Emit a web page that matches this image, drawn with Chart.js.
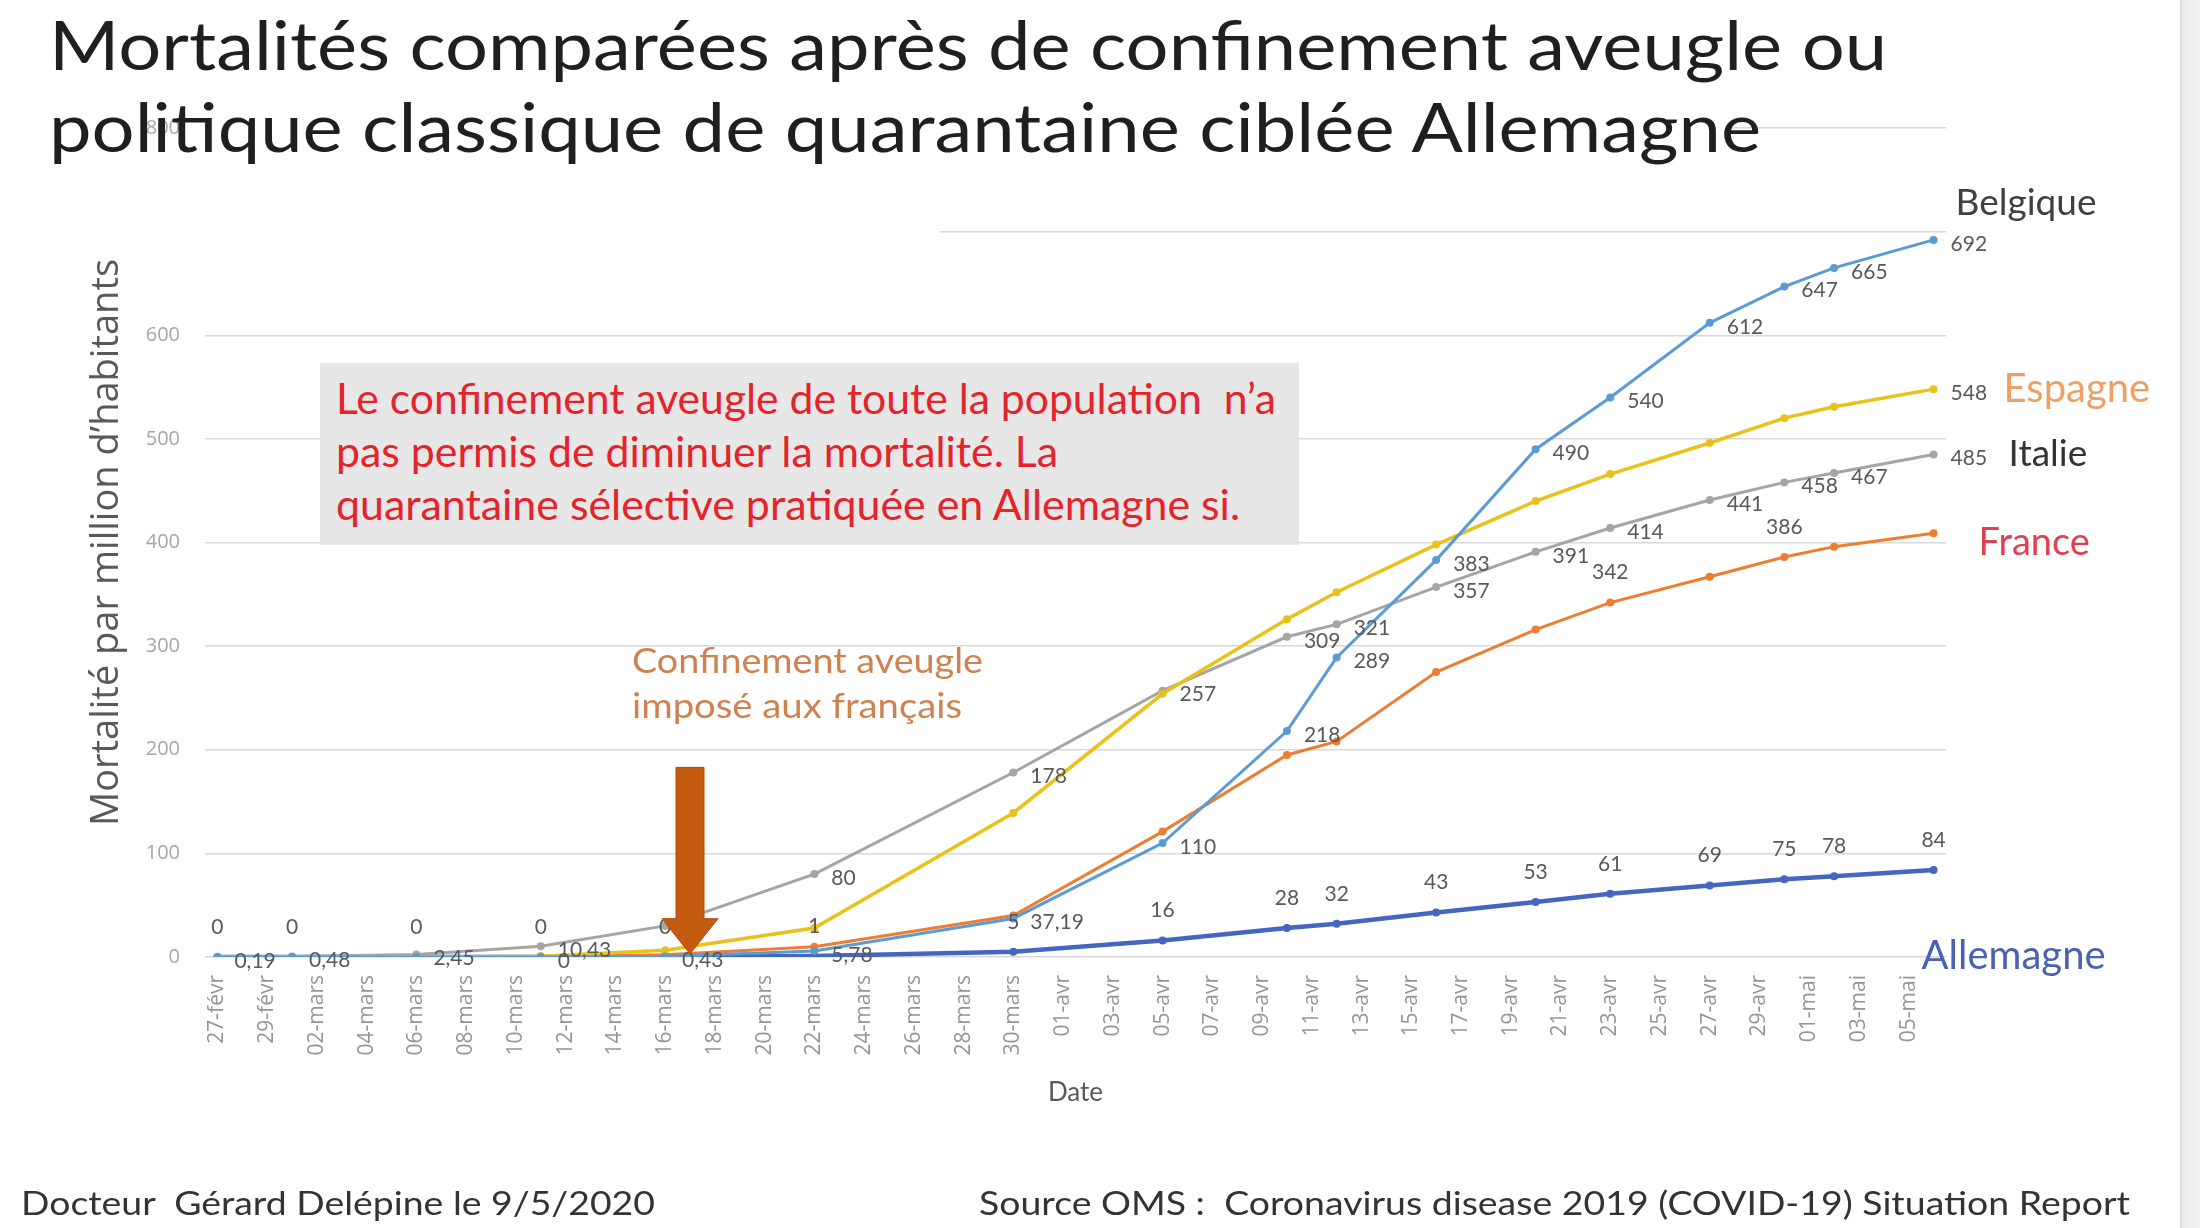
<!DOCTYPE html>
<html lang="fr">
<head>
<meta charset="utf-8">
<title>Mortalités comparées</title>
<script src="https://cdn.jsdelivr.net/npm/chart.js@4.4.1/dist/chart.umd.min.js"></script>
<style>
  html, body { margin: 0; padding: 0; background: #fff; }
  #page { position: relative; width: 2200px; height: 1228px; overflow: hidden; font-family: Lato, sans-serif; }
  #graphe { position: absolute; left: 0; top: 0; }
  .texte { position: absolute; white-space: pre; line-height: 1.2; transform-origin: 0 0; }
  .cache { position: absolute; background: #fff; }
</style>
</head>
<body>
<div id="page">
  <canvas id="graphe" width="2200" height="1228"></canvas>

  <!-- bouts de grille masqués comme sur la diapo -->
  <div class="cache" style="left:200px;top:121px;width:1530px;height:14px"></div>
  <div class="cache" style="left:0;top:216px;width:940px;height:30px"></div>

  <div id="encadre" style="position:absolute;left:320px;top:363px;width:979px;height:182px;background:#e7e7e7"></div>
  <div id="bande" style="position:absolute;left:2180px;top:0;width:20px;height:1228px;background:linear-gradient(to right,#d6d6d6 0,#ececec 3px,#f2f2f2 100%)"></div>

  <div class="texte" id="t1" style="font-size:68px;color:#1f1f1f">Mortalités comparées après de confinement aveugle ou</div>
  <div class="texte" id="t2" style="font-size:68px;color:#1f1f1f">politique classique de quarantaine ciblée Allemagne</div>

  <div class="texte" id="r1" style="font-size:42px;color:#e5232b">Le confinement aveugle de toute la population  n’a</div>
  <div class="texte" id="r2" style="font-size:42px;color:#e5232b">pas permis de diminuer la mortalité. La</div>
  <div class="texte" id="r3" style="font-size:42px;color:#e5232b">quarantaine sélective pratiquée en Allemagne si.</div>

  <div class="texte" id="o1" style="font-size:35px;color:#cf8250">Confinement aveugle</div>
  <div class="texte" id="o2" style="font-size:35px;color:#cf8250">imposé aux français</div>

  <div class="texte" id="p1" style="font-size:33px;color:#333">Docteur  Gérard Delépine le 9/5/2020</div>
  <div class="texte" id="p2" style="font-size:33px;color:#333">Source OMS :  Coronavirus disease 2019 (COVID-19) Situation Report</div>
</div>

<script>
// axe des dates (un jour par catégorie)
var jours = [
  '27-févr', '28-févr', '29-févr',
  '01-mars', '02-mars', '03-mars', '04-mars', '05-mars', '06-mars', '07-mars', '08-mars', '09-mars', '10-mars',
  '11-mars', '12-mars', '13-mars', '14-mars', '15-mars', '16-mars', '17-mars', '18-mars', '19-mars', '20-mars',
  '21-mars', '22-mars', '23-mars', '24-mars', '25-mars', '26-mars', '27-mars', '28-mars', '29-mars', '30-mars', '31-mars',
  '01-avr', '02-avr', '03-avr', '04-avr', '05-avr', '06-avr', '07-avr', '08-avr', '09-avr', '10-avr',
  '11-avr', '12-avr', '13-avr', '14-avr', '15-avr', '16-avr', '17-avr', '18-avr', '19-avr', '20-avr',
  '21-avr', '22-avr', '23-avr', '24-avr', '25-avr', '26-avr', '27-avr', '28-avr', '29-avr', '30-avr',
  '01-mai', '02-mai', '03-mai', '04-mai', '05-mai', '06-mai'
];

// dates des rapports OMS utilisés
var dates = ['27-févr', '01-mars', '06-mars', '11-mars', '16-mars', '22-mars', '30-mars', '05-avr', '10-avr',
             '12-avr', '16-avr', '20-avr', '23-avr', '27-avr', '30-avr', '02-mai', '06-mai'];

// morts par million d'habitants
var belgique  = [0, 0, 0, 0, 0.43, 5.78, 37.19, 110, 218, 289, 383, 490, 540, 612, 647, 665, 692];
var espagne   = [0, 0, 0.06, 0.8, 6.6, 28, 139, 254, 326, 352, 398, 440, 466, 496, 520, 531, 548];
var italie    = [0.19, 0.48, 2.45, 10.43, 30, 80, 178, 257, 309, 321, 357, 391, 414, 441, 458, 467, 485];
var france    = [0.03, 0.03, 0.1, 0.5, 2.2, 10, 40, 121, 195, 208, 275, 316, 342, 367, 386, 396, 409];
var allemagne = [0, 0, 0, 0, 0, 1, 5, 16, 28, 32, 43, 53, 61, 69, 75, 78, 84];

// dates qui portent une étiquette de valeur
var etiqBelgique  = dates.slice(3);
var etiqEspagne   = ['06-mai'];
var etiqItalie    = dates;
var etiqFrance    = ['23-avr', '30-avr'];
var etiqAllemagne = dates;

var graduations = [0, 100, 200, 300, 400, 500, 600, 700, 800];

// flèche "confinement" (date, haut de la flèche, base de la pointe, pointe)
var confinement = { date: '17-mars', haut: 183, base: 37, pointe: 3 };

function points(valeurs) {
  return valeurs.map(function(v, i) { return { x: dates[i], y: v }; });
}

function serie(nom, valeurs, couleur, epaisseur, etiq, pos) {
  return {
    label: nom,
    data: points(valeurs),
    borderColor: couleur,
    backgroundColor: couleur,
    borderWidth: epaisseur,
    pointRadius: 4,
    pointBorderWidth: 0,
    tension: 0,
    spanGaps: true,
    etiquettes: etiq,
    position: pos
  };
}

// noms des pays en bout de courbe (décalage par rapport au dernier point)
var nomsPays = [
  { serie: 0, texte: 'Belgique',  couleur: '#404040', taille: 37, dx: 22,  dy: -25 },
  { serie: 1, texte: 'Espagne',   couleur: '#eda064', taille: 40, dx: 70,  dy: 13 },
  { serie: 2, texte: 'Italie',    couleur: '#333333', taille: 37, dx: 75,  dy: 12 },
  { serie: 3, texte: 'France',    couleur: '#e2404e', taille: 38, dx: 45,  dy: 22 },
  { serie: 4, texte: 'Allemagne', couleur: '#4a62b0', taille: 40, dx: -12, dy: 99 }
];

var etiquettesPlugin = {
  id: 'etiquettes',
  afterDatasetsDraw: function(chart) {
    var ctx = chart.ctx;
    ctx.save();
    ctx.font = '21px Lato';
    ctx.fillStyle = '#595959';
    chart.data.datasets.forEach(function(ds, i) {
      var meta = chart.getDatasetMeta(i);
      meta.data.forEach(function(pt, j) {
        if (ds.etiquettes.indexOf(dates[j]) < 0) return;
        var txt = String(ds.data[j].y).replace('.', ',');
        if (ds.position === 'haut') {
          ctx.textAlign = 'center';
          ctx.textBaseline = 'middle';
          ctx.fillText(txt, pt.x, pt.y - 30);
        } else {
          ctx.textAlign = 'left';
          ctx.textBaseline = 'middle';
          ctx.fillText(txt, pt.x + 17, pt.y + 4);
        }
      });
    });
    nomsPays.forEach(function(n) {
      var meta = chart.getDatasetMeta(n.serie);
      var der = meta.data[meta.data.length - 1];
      ctx.font = n.taille + 'px Lato';
      ctx.fillStyle = n.couleur;
      ctx.textAlign = 'left';
      ctx.textBaseline = 'alphabetic';
      ctx.fillText(n.texte, der.x + n.dx, der.y + n.dy);
    });
    ctx.restore();
  }
};

var flechePlugin = {
  id: 'fleche',
  afterDraw: function(chart) {
    var ctx = chart.ctx, x = chart.scales.x, y = chart.scales.y;
    var cx = x.getPixelForValue(jours.indexOf(confinement.date));
    var yh = y.getPixelForValue(confinement.haut);
    var yb = y.getPixelForValue(confinement.base);
    var yp = y.getPixelForValue(confinement.pointe);
    ctx.save();
    ctx.fillStyle = '#c55a11';
    ctx.strokeStyle = '#b04e0c';
    ctx.lineWidth = 1;
    ctx.beginPath();
    ctx.moveTo(cx - 14, yh);
    ctx.lineTo(cx + 14, yh);
    ctx.lineTo(cx + 14, yb);
    ctx.lineTo(cx + 28, yb);
    ctx.lineTo(cx, yp);
    ctx.lineTo(cx - 28, yb);
    ctx.lineTo(cx - 14, yb);
    ctx.closePath();
    ctx.fill();
    ctx.stroke();
    ctx.restore();
  }
};

var ctx = document.getElementById('graphe').getContext('2d');

new Chart(ctx, {
  type: 'line',
  data: {
    labels: jours,
    datasets: [
      serie('Belgique', belgique, '#5b9bd5', 3, etiqBelgique, 'droite'),
      serie('Espagne', espagne, '#e8c21a', 3.5, etiqEspagne, 'droite'),
      serie('Italie', italie, '#a5a5a5', 3, etiqItalie, 'droite'),
      serie('France', france, '#ed7d31', 3, etiqFrance, 'haut'),
      serie('Allemagne', allemagne, '#4466c0', 4.5, etiqAllemagne, 'haut')
    ]
  },
  options: {
    responsive: false,
    animation: false,
    devicePixelRatio: 1,
    layout: { padding: { left: 82, top: 128, right: 254, bottom: 116 } },
    plugins: {
      legend: { display: false },
      tooltip: { enabled: false }
    },
    scales: {
      x: {
        type: 'category',
        offset: true,
        grid: { display: false },
        border: { display: false },
        ticks: {
          autoSkip: false,
          maxRotation: 90,
          minRotation: 90,
          padding: 10,
          color: '#959595',
          font: { family: 'Open Sans', size: 21 },
          callback: function(val, index) {
            return index % 2 === 0 ? this.getLabelForValue(val) : '';
          }
        },
        title: {
          display: true,
          text: 'Date',
          color: '#595959',
          font: { family: 'Lato', size: 26 },
          padding: { top: 0, bottom: 4 }
        },
        afterFit: function(s) { s.height = 155; }
      },
      y: {
        min: 0,
        max: 800,
        afterBuildTicks: function(s) {
          s.ticks = graduations.map(function(v) { return { value: v }; });
        },
        grid: { color: '#d9d9d9', lineWidth: 1.5, drawTicks: false },
        border: { display: false },
        ticks: {
          padding: 25,
          color: '#a6a6a6',
          font: { family: 'Open Sans', size: 20 }
        },
        title: {
          display: true,
          text: 'Mortalité par million d’habitants',
          color: '#595959',
          font: { family: 'Open Sans', size: 38 },
          padding: { top: 2, bottom: 0 }
        },
        afterFit: function(s) { s.width = 123; }
      }
    }
  },
  plugins: [etiquettesPlugin, flechePlugin]
});

// placement des textes de la diapo : gauche, ligne de base, largeur voulue
function placer(id, gauche, base, largeur) {
  var el = document.getElementById(id);
  var repere = document.createElement('span');
  repere.style.cssText = 'display:inline-block;width:0;height:0;vertical-align:baseline';
  el.appendChild(repere);
  el.style.left = gauche + 'px';
  el.style.top = (base - repere.offsetTop) + 'px';
  var w = el.getBoundingClientRect().width;
  el.style.transform = 'scaleX(' + (largeur / w) + ')';
}

document.fonts.ready.then(function() {
  placer('t1', 49, 70, 1838);
  placer('t2', 49, 152, 1712);
  placer('r1', 336, 414, 940);
  placer('r2', 336, 467, 722);
  placer('r3', 336, 520, 904);
  placer('o1', 632, 673, 351);
  placer('o2', 632, 718, 330);
  placer('p1', 21, 1215, 634);
  placer('p2', 979, 1215, 1151);
});
</script>
</body>
</html>
